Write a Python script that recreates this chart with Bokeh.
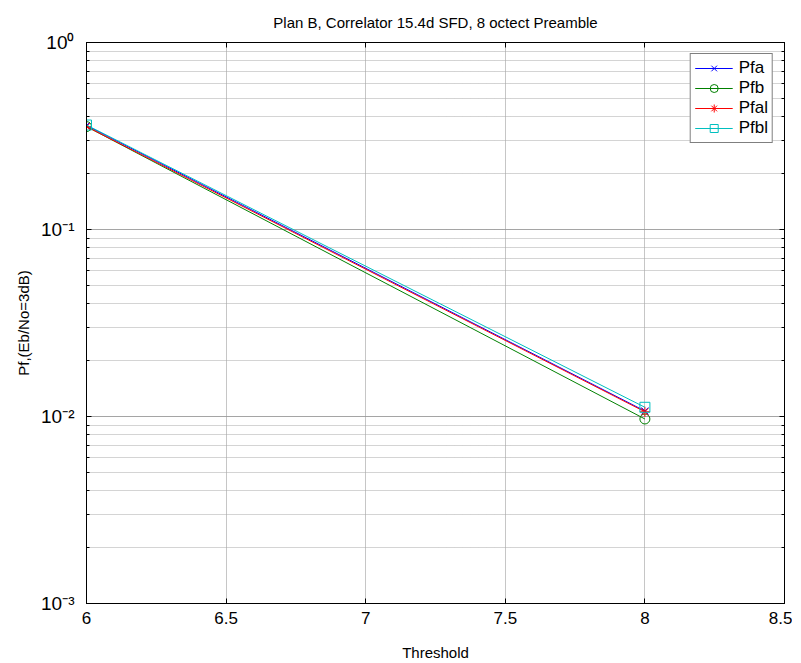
from bokeh.plotting import figure
from bokeh.models import (LogAxis, LinearAxis, FixedTicker, CustomJSTickFormatter,
                          Range1d, Legend, LegendItem, LogTicker)
from bokeh.embed import file_html
from bokeh.resources import INLINE

x = [6, 8]
pfa = [0.36, 0.0107]
pfb = [0.355, 0.0097]
pfal = [0.355, 0.0106]
pfbl = [0.362, 0.0112]

x_ticks = [6, 6.5, 7, 7.5, 8, 8.5]

FONT = "Liberation Sans"

p = figure(frame_width=698, frame_height=561, y_axis_type="log",
           x_range=Range1d(6, 8.5), y_range=Range1d(1e-3, 1),
           output_backend="svg", toolbar_location=None,
           min_border_left=86, min_border_right=8, min_border_top=42, min_border_bottom=62,
           background_fill_color="white", border_fill_color="white")

p.title.text = "Plan B, Correlator 15.4d SFD, 8 octect Preamble"
p.title.align = "center"
p.title.text_font = FONT
p.title.text_font_size = "15px"
p.title.text_font_style = "normal"
p.title.text_color = "black"
p.title.standoff = 23

p.outline_line_color = "black"
p.outline_line_width = 1

fmt = CustomJSTickFormatter(code="""
const e = Math.round(Math.log10(tick));
const sup = {"0":"\\u2070","1":"\\u00b9","2":"\\u00b2","3":"\\u00b3","-":"\\u207b"};
const s = String(e).split('').map(c => sup[c]).join('');
return "10" + s;
""")
blank = CustomJSTickFormatter(code="return '';")

xa = p.xaxis[0]
xa.ticker = FixedTicker(ticks=x_ticks)
ya = p.yaxis[0]
ya.ticker = LogTicker(num_minor_ticks=10)
ya.formatter = fmt

for ax in (xa, ya):
    ax.major_tick_in = 5
    ax.major_tick_out = 0
    ax.minor_tick_in = 3
    ax.minor_tick_out = 0
    ax.axis_line_color = "black"
    ax.major_label_text_font = FONT
    ax.major_label_text_font_size = "17px"
    ax.major_label_text_color = "black"
    ax.axis_label_text_font = FONT
    ax.axis_label_text_font_size = "15px"
    ax.axis_label_text_font_style = "normal"
    ax.axis_label_text_color = "black"
ya.major_label_text_font_size = "19px"
xa.minor_tick_line_color = None
xa.axis_label = "Threshold"
ya.axis_label = "Pf,(Eb/No=3dB)"
xa.major_label_standoff = 8
ya.major_label_standoff = 12
xa.axis_label_standoff = 17
ya.axis_label_standoff = 6

# mirrored ticks on right and top
ra = LogAxis(ticker=LogTicker(num_minor_ticks=10), formatter=blank,
             major_tick_in=5, major_tick_out=0, minor_tick_in=3, minor_tick_out=0,
             axis_line_color="black", major_label_standoff=0)
ta = LinearAxis(ticker=FixedTicker(ticks=x_ticks), formatter=blank,
                major_tick_in=5, major_tick_out=0, minor_tick_line_color=None,
                axis_line_color="black", major_label_standoff=0)
p.add_layout(ra, "right")
p.add_layout(ta, "above")

p.xgrid.ticker = FixedTicker(ticks=x_ticks)
for g in (p.xgrid[0], p.ygrid[0]):
    g.grid_line_color = "#8c8c8c"
    g.grid_line_dash = "1 1"
    g.grid_line_width = 1
p.ygrid.minor_grid_line_color = "#a8a8a8"
p.ygrid.minor_grid_line_dash = "1 1"

series = [
    ("Pfa", pfa, "#0000ff", "x"),
    ("Pfb", pfb, "#008000", "circle"),
    ("Pfal", pfal, "#ff0000", "asterisk"),
    ("Pfbl", pfbl, "#00bfbf", "square"),
]
items = []
for name, ys, col, mk in series:
    l = p.line(x, ys, line_color=col, line_width=1)
    m = p.scatter(x, ys, marker=mk, size=10, line_color=col, fill_color=None, line_width=1)
    items.append(LegendItem(label=name, renderers=[l, m]))

leg = Legend(items=items, location="top_right")
leg.margin = 11
leg.padding = 4
leg.spacing = 0
leg.label_height = 20
leg.glyph_height = 20
leg.glyph_width = 38
leg.label_standoff = 6
leg.label_text_font = FONT
leg.label_text_font_size = "17px"
leg.label_text_color = "black"
leg.border_line_color = "black"
leg.border_line_width = 1
leg.background_fill_color = "white"
leg.background_fill_alpha = 1
p.add_layout(leg)

open("out.html", "w").write(file_html(p, INLINE))
